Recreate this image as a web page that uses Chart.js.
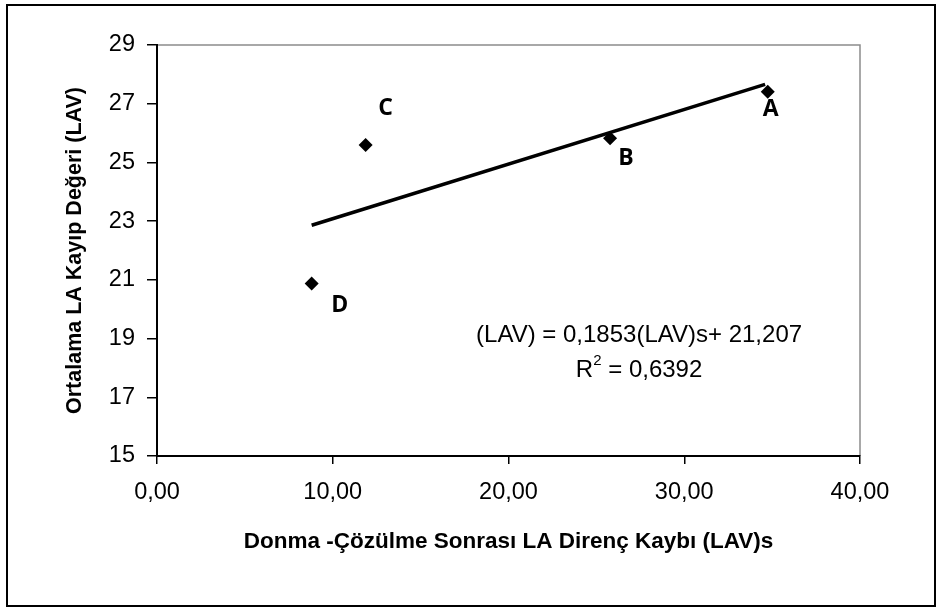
<!DOCTYPE html>
<html>
<head>
<meta charset="utf-8">
<script src="https://cdn.jsdelivr.net/npm/chart.js@4"></script>
<style>
  body { margin: 0; background: #fff; }
</style>
</head>
<body>
<canvas id="myChart" width="942" height="610"></canvas>
<script>
// values
const pointNames = ["A", "B", "C", "D"];
const lavS = [34.75, 25.78, 11.87, 8.8];
const lav = [27.41, 25.82, 25.59, 20.88];

// trendline ends as drawn
const trendX = [8.8, 34.6];
const trendY = [22.86, 27.66];

const yTicks = [15, 17, 19, 21, 23, 25, 27, 29];
const xTicks = [0, 10, 20, 30, 40];

const eqText = "(LAV) = 0,1853(LAV)s+ 21,207";
const r2Value = "0,6392";

// label offsets in px from each point
const labelOffsets = [[3, 18], [16, 20], [20, -37], [28, 22]];

const frame = {
  id: "frame",
  beforeDraw(chart) {
    const c = chart.ctx;
    c.save();
    c.fillStyle = "#fff";
    c.fillRect(0, 0, chart.width, chart.height);
    c.strokeStyle = "#000";
    c.lineWidth = 2;
    c.strokeRect(7, 5, 928, 601);
    const a = chart.chartArea;
    c.strokeStyle = "#8c8c8c";
    c.lineWidth = 1.5;
    c.beginPath();
    c.moveTo(a.left, a.top);
    c.lineTo(a.right, a.top);
    c.lineTo(a.right, a.bottom);
    c.stroke();
    c.restore();
  },
  afterDraw(chart) {
    const c = chart.ctx;
    const meta = chart.getDatasetMeta(1);
    c.save();
    c.fillStyle = "#000";
    c.font = "bold 23px 'Open Sans'";
    c.textAlign = "center";
    c.textBaseline = "middle";
    meta.data.forEach((pt, i) => {
      c.fillText(pointNames[i], pt.x + labelOffsets[i][0], pt.y + labelOffsets[i][1]);
    });

    // equation box
    const xs = chart.scales.x, ys = chart.scales.y;
    const cx = xs.getPixelForValue(27.43);
    c.font = "24px 'Liberation Sans'";
    c.fillText(eqText, cx, ys.getPixelForValue(19.12));
    const yR = ys.getPixelForValue(17.93);
    const main = " = " + r2Value;
    const wR = c.measureText("R").width;
    c.font = "15px 'Liberation Sans'";
    const w2 = c.measureText("2").width;
    c.font = "24px 'Liberation Sans'";
    const wM = c.measureText(main).width;
    let x0 = cx - (wR + w2 + wM) / 2;
    c.textAlign = "left";
    c.fillText("R", x0, yR);
    c.font = "15px 'Liberation Sans'";
    c.fillText("2", x0 + wR, yR - 9);
    c.font = "24px 'Liberation Sans'";
    c.fillText(main, x0 + wR + w2, yR);
    c.restore();
  }
};

const ctx = document.getElementById("myChart").getContext("2d");
const myChart = new Chart(ctx, {
  type: "scatter",
  data: {
    datasets: [
      {
        type: "line",
        label: "trend",
        data: trendX.map((x, i) => ({ x: x, y: trendY[i] })),
        borderColor: "#000",
        borderWidth: 3.5,
        pointRadius: 0,
        fill: false,
      },
      {
        label: "LAV",
        data: lavS.map((x, i) => ({ x: x, y: lav[i] })),
        backgroundColor: "#000",
        borderColor: "#000",
        borderWidth: 0,
        pointStyle: "rectRot",
        pointRadius: 7,
      },
    ],
  },
  options: {
    responsive: false,
    animation: false,
    layout: { padding: { left: 0, top: 45, right: 82, bottom: 0 } },
    plugins: {
      legend: { display: false },
      tooltip: { enabled: false },
    },
    scales: {
      x: {
        type: "linear",
        min: 0,
        max: 40,
        afterFit: (s) => { s.height = 154; },
        afterBuildTicks: (s) => { s.ticks = xTicks.map((v) => ({ value: v })); },
        grid: { drawOnChartArea: false, color: "#000", tickLength: 8, lineWidth: 1.5 },
        border: { color: "#000", width: 2 },
        ticks: {
          color: "#000",
          padding: 14,
          maxRotation: 0,
          font: { family: "'Liberation Sans'", size: 23.5 },
          callback: (v) => v.toFixed(2).replace(".", ","),
        },
        title: {
          display: true,
          text: "Donma -Çözülme Sonrası LA Direnç Kaybı (LAV)s",
          color: "#000",
          font: { family: "'Liberation Sans'", size: 22.5, weight: "bold" },
          padding: { top: 0, bottom: 55 },
        },
      },
      y: {
        min: 15,
        max: 29,
        afterFit: (s) => { s.width = 157; },
        afterBuildTicks: (s) => { s.ticks = yTicks.map((v) => ({ value: v })); },
        grid: { drawOnChartArea: false, color: "#000", tickLength: 10, lineWidth: 1.5 },
        border: { color: "#000", width: 2 },
        ticks: {
          color: "#000",
          padding: 12,
          font: { family: "'Liberation Sans'", size: 23.5 },
        },
        title: {
          display: true,
          text: "Ortalama LA Kayıp Değeri (LAV)",
          color: "#000",
          font: { family: "'Liberation Sans'", size: 21.5, weight: "bold" },
          padding: { top: 62, bottom: 0 },
        },
      },
    },
  },
  plugins: [frame],
});
</script>
</body>
</html>
